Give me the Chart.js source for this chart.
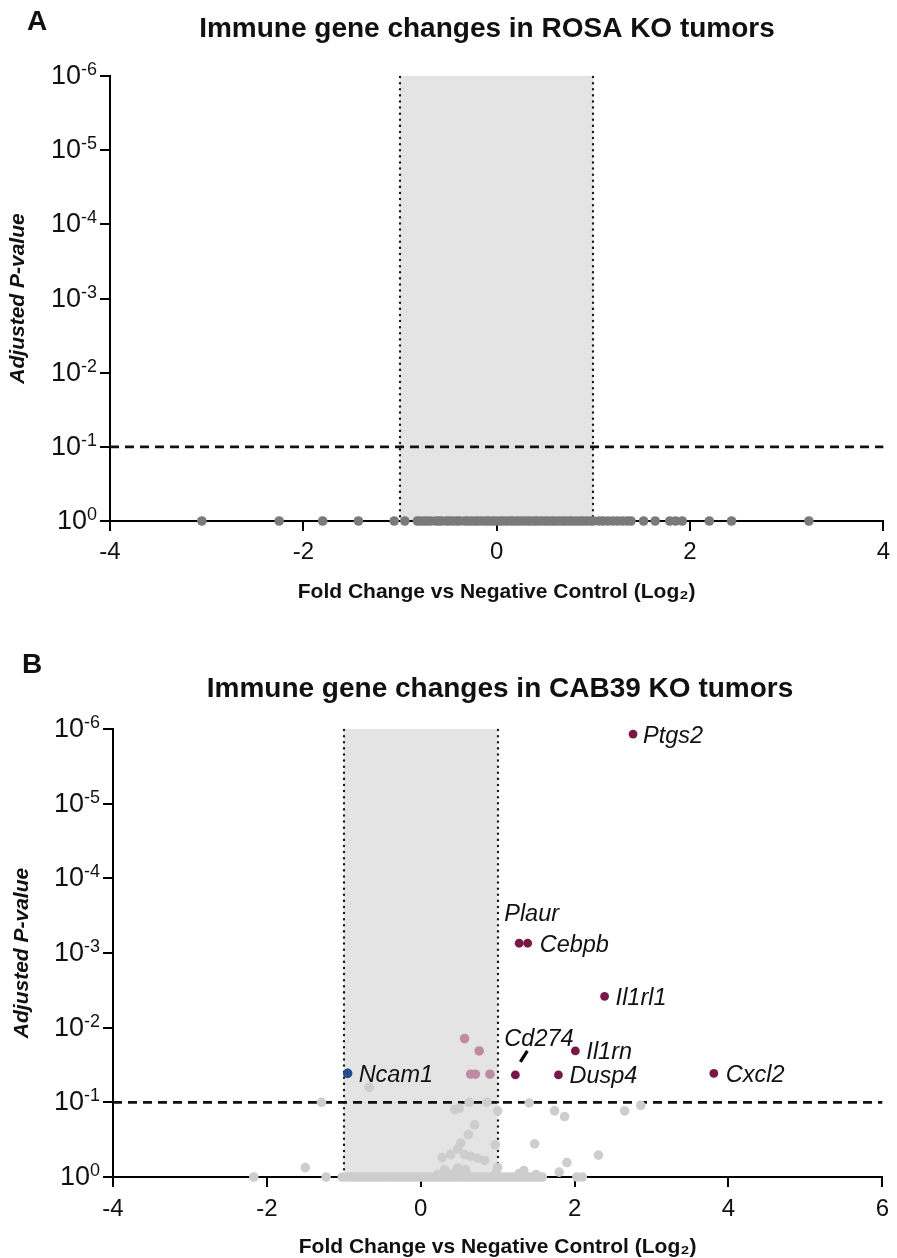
<!DOCTYPE html>
<html><head><meta charset="utf-8">
<script src="https://cdn.jsdelivr.net/npm/chart.js@4.4.1/dist/chart.umd.min.js"></script>
<style>html,body{margin:0;padding:0;background:#fff;width:897px;height:1258px;overflow:hidden}canvas{display:block}</style>
</head><body>
<canvas id="cA" width="897" height="629"></canvas>
<canvas id="cB" width="897" height="629"></canvas>
<script>
// ---------------- DATA ----------------
const yTickExponents = [-6, -5, -4, -3, -2, -1, 0];
const xTicksA = [-4, -2, 0, 2, 4];
const xTicksB = [-4, -2, 0, 2, 4, 6];
const FC_CUTOFF = 1;      // log2 fold-change cutoff (shaded band)
const P_CUTOFF = 0.1;     // adjusted p-value cutoff (dashed line)

// Panel A: ROSA KO – all genes at adjusted p = 1
const rosaFC = [
  -3.05, -2.25, -1.8, -1.43, -1.06, -0.95, -0.82, -0.79, -0.75, -0.72,
  -0.68, -0.63, -0.6, -0.57, -0.52, -0.49, -0.45, -0.41, -0.38, -0.33,
  -0.3, -0.26, -0.22, -0.19, -0.15, -0.11, -0.08, -0.04, -0.01, 0.03,
  0.06, 0.1, 0.14, 0.17, 0.21, 0.24, 0.28, 0.32, 0.35, 0.39,
  0.42, 0.46, 0.5, 0.53, 0.57, 0.6, 0.64, 0.68, 0.71, 0.75,
  0.78, 0.82, 0.86, 0.89, 0.93, 0.97, 1.0, 1.06, 1.1, 1.15,
  1.2, 1.25, 1.3, 1.35, 1.39, 1.52, 1.64, 1.79, 1.85, 1.92,
  2.2, 2.43, 3.23
];
const rosaAdjP = [
  1, 1, 1, 1, 1, 1, 1, 1, 1, 1,
  1, 1, 1, 1, 1, 1, 1, 1, 1, 1,
  1, 1, 1, 1, 1, 1, 1, 1, 1, 1,
  1, 1, 1, 1, 1, 1, 1, 1, 1, 1,
  1, 1, 1, 1, 1, 1, 1, 1, 1, 1,
  1, 1, 1, 1, 1, 1, 1, 1, 1, 1,
  1, 1, 1, 1, 1, 1, 1, 1, 1, 1,
  1, 1, 1
];

// Panel B: CAB39 KO – labelled significant up-regulated genes
const cabGenes  = ['Ptgs2', 'Plaur', 'Cebpb', 'Il1rl1', 'Cd274', 'Il1rn', 'Dusp4', 'Cxcl2'];
const cabGeneFC = [2.76, 1.28, 1.39, 2.39, 1.23, 2.01, 1.79, 3.81];
const cabGeneP  = [1.17e-6, 7.4e-4, 7.4e-4, 3.8e-3, 0.043, 0.0205, 0.043, 0.041];

// down-regulated labelled gene
const cabDownGenes = ['Ncam1'];
const cabDownFC = [-0.95];
const cabDownP  = [0.041];

// significant but small fold change
const cabMidFC = [0.57, 0.76, 0.65, 0.71, 0.9];
const cabMidP  = [0.014, 0.0205, 0.042, 0.042, 0.042];

// non-significant genes
const cabGrayFC = [
  -2.17, -1.23, -1.02, -0.96, -0.91, -0.87, -0.82, -0.77, -0.73, -0.68,
  -0.64, -0.59, -0.55, -0.5, -0.46, -0.41, -0.36, -0.32, -0.27, -0.23,
  -0.18, -0.14, -0.09, -0.05, 0.0, 0.05, 0.09, 0.14, 0.18, 0.23,
  0.27, 0.32, 0.36, 0.41, 0.45, 0.5, 0.55, 0.59, 0.64, 0.68,
  0.73, 0.77, 0.82, 0.86, 0.91, 0.95, 1.0, 1.04, 1.09, 1.13,
  1.18, 1.22, 1.27, 1.31, 1.36, 1.4, 1.45, 1.49, 1.54, 1.58,
  2.03, 2.1, 0.22, 0.35, 0.45, 0.6, 0.98, 1.28, 1.5, -1.5,
  -1.29, -0.67, 0.44, 0.5, 0.63, 0.86, 1.0, 1.41, 1.74, 1.87,
  2.65, 2.86, 0.7, 0.62, 0.52, 0.48, 0.39, 0.28, 0.57, 0.65,
  0.74, 0.83, 0.97, 1.48, 1.0, 1.34, 0.31, 0.48, 0.58, 1.9,
  2.31, 1.8
];
const cabGrayP = [
  1, 1, 1, 1, 1, 1, 1, 1, 1, 1,
  1, 1, 1, 1, 1, 1, 1, 1, 1, 1,
  1, 1, 1, 1, 1, 1, 1, 1, 1, 1,
  1, 1, 1, 1, 1, 1, 1, 1, 1, 1,
  1, 1, 1, 1, 1, 1, 1, 1, 1, 1,
  1, 1, 1, 1, 1, 1, 1, 1, 1, 1,
  1, 1, 0.92, 0.9, 0.88, 0.9, 0.88, 0.9, 0.93, 0.75,
  0.1, 0.063, 0.125, 0.12, 0.1, 0.1, 0.13, 0.102, 0.13, 0.155,
  0.13, 0.11, 0.2, 0.27, 0.35, 0.42, 0.5, 0.55, 0.5, 0.53,
  0.56, 0.6, 0.37, 0.36, 0.75, 0.82, 0.8, 0.76, 0.8, 0.64,
  0.51, 0.86
];

// ---------------- STYLE ----------------
const FONT = "'Liberation Sans', Arial, Helvetica, sans-serif";
const labelStyle = {
  Ptgs2: {dx: 10, dy: 0}, Plaur: {dx: -15, dy: -31}, Cebpb: {dx: 12, dy: 0},
  Il1rl1: {dx: 11, dy: 0}, Cd274: {dx: -11, dy: -37}, Il1rn: {dx: 11, dy: 0},
  Dusp4: {dx: 11, dy: 0}, Cxcl2: {dx: 12, dy: 0}, Ncam1: {dx: 11, dy: 0}
};

function pts(xs, ys) { return xs.map((x, i) => ({x: x, y: ys[i]})); }

function panelPlugin(p) {
  return {
    id: 'panel' + p.letter,
    beforeDraw(chart) {
      const {ctx} = chart, xs = chart.scales.x, ys = chart.scales.y;
      const x1 = xs.getPixelForValue(-FC_CUTOFF), x2 = xs.getPixelForValue(FC_CUTOFF);
      const t = ys.getPixelForValue(Math.pow(10, yTickExponents[0]));
      const b = ys.getPixelForValue(1);
      ctx.save();
      ctx.fillStyle = '#e4e4e4';
      ctx.fillRect(x1, t, x2 - x1, b - t);
      ctx.restore();
    },
    beforeDatasetsDraw(chart) {
      const {ctx} = chart, xs = chart.scales.x, ys = chart.scales.y;
      const t = ys.getPixelForValue(Math.pow(10, yTickExponents[0]));
      const b = ys.getPixelForValue(1);
      ctx.save();
      ctx.strokeStyle = '#1a1a1a';
      ctx.lineWidth = 2.4;
      ctx.lineCap = 'round';
      ctx.setLineDash([0.1, 6]);
      [-FC_CUTOFF, FC_CUTOFF].forEach(v => {
        const x = Math.round(xs.getPixelForValue(v));
        ctx.beginPath(); ctx.moveTo(x, t + 1); ctx.lineTo(x, b - 2); ctx.stroke();
      });
      ctx.lineCap = 'butt';
      ctx.lineWidth = 2.6;
      ctx.strokeStyle = '#111';
      ctx.setLineDash([9, 6]);
      const y = ys.getPixelForValue(P_CUTOFF);
      ctx.beginPath(); ctx.moveTo(xs.left, y); ctx.lineTo(xs.right, y); ctx.stroke();
      ctx.restore();
    },
    afterDraw(chart) {
      const {ctx} = chart, xs = chart.scales.x, ys = chart.scales.y;
      ctx.save();
      ctx.fillStyle = '#111';
      // y tick labels 10^n
      const right = ys.right - 13;
      yTickExponents.forEach(e => {
        const y = ys.getPixelForValue(Math.pow(10, e));
        const expTxt = String(e);
        ctx.font = '18px ' + FONT;
        ctx.textAlign = 'right'; ctx.textBaseline = 'alphabetic';
        const w = ctx.measureText(expTxt).width;
        ctx.fillText(expTxt, right, y - 1);
        ctx.font = '27px ' + FONT;
        ctx.fillText('10', right - w, y + 8);
      });
      // panel letter and title
      ctx.textAlign = 'left';
      ctx.font = 'bold 28px ' + FONT;
      ctx.fillText(p.letter, p.letterX, p.letterY);
      ctx.textAlign = 'center';
      ctx.fillText(p.title, p.titleX, p.titleY);
      // gene labels
      if (p.labels) {
        ctx.font = 'italic 23.5px ' + FONT;
        ctx.textAlign = 'left';
        p.labels.forEach(L => {
          L.names.forEach((name, i) => {
            const px = xs.getPixelForValue(L.fc[i]), py = ys.getPixelForValue(L.p[i]);
            const s = labelStyle[name];
            ctx.fillText(name, px + s.dx, py + s.dy + 8.5);
            if (name === 'Cd274') {
              ctx.save();
              ctx.lineWidth = 3.2; ctx.strokeStyle = '#000';
              ctx.beginPath(); ctx.moveTo(px + 12, py - 24); ctx.lineTo(px + 5, py - 13); ctx.stroke();
              ctx.restore();
            }
          });
        });
      }
      ctx.restore();
    }
  };
}

function axisCfg(o) {
  return {
    x: {
      type: 'linear', min: o.xTicks[0], max: o.xTicks[o.xTicks.length - 1],
      afterBuildTicks: s => { s.ticks = o.xTicks.map(v => ({value: v})); },
      afterFit: s => { s.height = o.xHeight; },
      grid: {display: true, drawOnChartArea: false, drawTicks: true, tickLength: 10, tickWidth: 2, tickColor: '#000', lineWidth: 2, color: '#000'},
      border: {display: true, color: '#000', width: 2},
      ticks: {font: {family: FONT, size: 24}, color: '#111', padding: o.xPad, maxRotation: 0, autoSkip: false, callback: v => String(v)},
      title: {display: true, text: 'Fold Change vs Negative Control (Log\u2082)', color: '#111',
              font: {family: FONT, size: 21, weight: 'bold', lineHeight: 1}, padding: {top: 0, bottom: o.xTitlePad}}
    },
    y: {
      type: 'logarithmic', min: Math.pow(10, yTickExponents[0]), max: 1, reverse: true,
      afterBuildTicks: s => { s.ticks = yTickExponents.map(e => ({value: Math.pow(10, e)})); },
      afterFit: s => { s.width = o.yWidth; },
      grid: {display: true, drawOnChartArea: false, drawTicks: true, tickLength: 10, tickWidth: 2, tickColor: '#000', lineWidth: 2, color: '#000'},
      border: {display: true, color: '#000', width: 2},
      ticks: {callback: () => '', padding: 0},
      title: {display: true, text: 'Adjusted P-value', color: '#111',
              font: {family: FONT, size: 21, weight: 'bold', style: 'italic', lineHeight: 1}, padding: {top: o.yTitlePad, bottom: 0}}
    }
  };
}

const baseOpts = (o) => ({
  responsive: false, animation: false, devicePixelRatio: 1,
  layout: {padding: {left: 0, right: o.padRight, top: o.padTop, bottom: 0}},
  plugins: {legend: {display: false}, tooltip: {enabled: false}, title: {display: false}},
  scales: axisCfg(o)
});

// Panel A
new Chart(document.getElementById('cA'), {
  type: 'scatter',
  data: {datasets: [{
    data: pts(rosaFC, rosaAdjP), pointRadius: 4.8, pointBackgroundColor: '#7a7a7a', pointBorderWidth: 0, clip: false
  }]},
  options: baseOpts({xTicks: xTicksA, xHeight: 108, xPad: 7, xTitlePad: 26, yWidth: 110, yTitlePad: 8, padRight: 11, padTop: 76}),
  plugins: [panelPlugin({letter: 'A', letterX: 27, letterY: 30, title: 'Immune gene changes in ROSA KO tumors', titleX: 487, titleY: 37})]
});

// Panel B
new Chart(document.getElementById('cB'), {
  type: 'scatter',
  data: {datasets: [
    {data: pts(cabGeneFC, cabGeneP), pointRadius: 4.4, pointBackgroundColor: '#7b1747', pointBorderWidth: 0, clip: false},
    {data: pts(cabDownFC, cabDownP), pointRadius: 4.8, pointBackgroundColor: '#1f4f8e', pointBorderWidth: 0, clip: false},
    {data: pts(cabMidFC, cabMidP), pointRadius: 4.8, pointBackgroundColor: '#bf8ba2', pointBorderWidth: 0, clip: false},
    {data: pts(cabGrayFC, cabGrayP), pointRadius: 4.8, pointBackgroundColor: '#cdcdcd', pointBorderWidth: 0, clip: false}
  ]},
  options: baseOpts({xTicks: xTicksB, xHeight: 81, xPad: 8, xTitlePad: 0, yWidth: 113, yTitlePad: 12, padRight: 9, padTop: 100}),
  plugins: [panelPlugin({letter: 'B', letterX: 22, letterY: 44, title: 'Immune gene changes in CAB39 KO tumors', titleX: 500, titleY: 68,
    labels: [{names: cabGenes, fc: cabGeneFC, p: cabGeneP}, {names: cabDownGenes, fc: cabDownFC, p: cabDownP}]})]
});
</script>
</body></html>
